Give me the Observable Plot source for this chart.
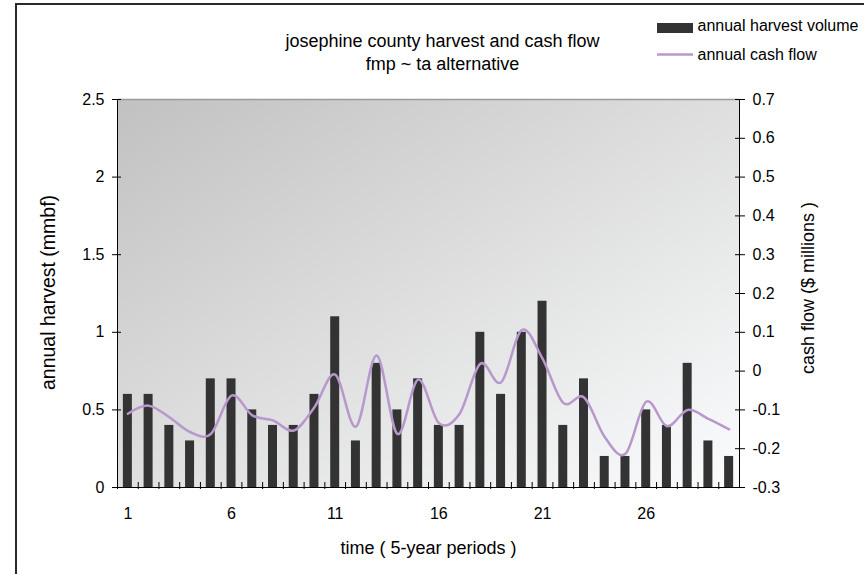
<!DOCTYPE html>
<html><head><meta charset="utf-8">
<script src="https://cdn.jsdelivr.net/npm/d3@7"></script>
<script src="https://cdn.jsdelivr.net/npm/@observablehq/plot@0.6"></script>
<style>
html,body{margin:0;padding:0;background:#fff;overflow:hidden}
#wrap{position:relative;width:864px;height:574px;overflow:hidden;background:#fff}
#wrap svg{position:absolute;left:0;top:0}
#bg{position:absolute;left:117px;top:99px;width:622px;height:388px;background:linear-gradient(to bottom right,#c1c1c1,#fbfcfd)}
#border{position:absolute;left:15px;top:3px;width:900px;height:700px;border:2px solid #2a2a2a;box-sizing:border-box}
</style></head>
<body><div id="wrap"><div id="border"></div><div id="bg"></div></div>
<script>
// ---- data ----
const periods = [1,2,3,4,5,6,7,8,9,10,11,12,13,14,15,16,17,18,19,20,21,22,23,24,25,26,27,28,29,30];
const harvest = [0.6,0.6,0.4,0.3,0.7,0.7,0.5,0.4,0.4,0.6,1.1,0.3,0.8,0.5,0.7,0.4,0.4,1.0,0.6,1.0,1.2,0.4,0.7,0.2,0.2,0.5,0.4,0.8,0.3,0.2];
const cashFlow = [-0.110,-0.089,-0.119,-0.157,-0.162,-0.063,-0.114,-0.127,-0.153,-0.093,-0.009,-0.143,0.040,-0.162,-0.022,-0.134,-0.110,0.019,-0.029,0.106,0.032,-0.082,-0.068,-0.170,-0.213,-0.079,-0.142,-0.100,-0.123,-0.150];
const xTickLabels = [1,6,11,16,21,26];
const harvestTicks = [0,0.5,1,1.5,2,2.5];
const cashTicks = [-0.3,-0.2,-0.1,0,0.1,0.2,0.3,0.4,0.5,0.6,0.7];
const titleLines = ["josephine county harvest and cash flow","fmp ~ ta alternative"];
const legendLabels = ["annual harvest volume","annual cash flow"];
const axisLabels = {x:"time ( 5-year periods )", yLeft:"annual harvest (mmbf)", yRight:"cash flow ($ millions )"};

const rows = periods.map((p,i)=>({period:p, volume:harvest[i], cash:cashFlow[i]}));

const barColor = "#333333";
const lineColor = "#b898cc";
const font = "'Liberation Sans', Arial, sans-serif";
const step = 622/30;

const xScale = {type:"band", domain:periods, paddingInner:0.566, paddingOuter:0.283, round:false};
const common = {
  width:864, height:574, marginLeft:117, marginRight:125, marginTop:99, marginBottom:87,
  style:{background:"transparent", fontFamily:font, fontSize:"16px", color:"#000", overflow:"visible"}
};

const base = Plot.plot({
  ...common,
  x:{...xScale, label:null, ticks:xTickLabels, tickSize:0, tickPadding:20, line:true},
  y:{domain:[0,2.5], ticks:harvestTicks, tickFormat:d=>String(d), tickSize:5, tickPadding:8, label:null, line:true},
  marks:[
    Plot.ruleY([2.5], {stroke:"#9a9a9a", strokeWidth:1.5}),
    Plot.barY(rows, {x:"period", y:"volume", fill:barColor}),
    Plot.ruleX(periods, {x:d=>d, y1:0, y2:0, dx:-step/2, insetTop:2, insetBottom:5, stroke:"#000"}),
    Plot.ruleY(harvestTicks, {y:d=>d, insetRight:618, stroke:"#000"})
  ]
});

const txt = {text:d=>d, lineAnchor:"middle"};
const over = Plot.plot({
  ...common,
  x:{...xScale, axis:null},
  y:{domain:[-0.3,0.7], axis:"right", ticks:cashTicks, tickFormat:d=>String(d), tickSize:5, tickPadding:8, label:null, line:true},
  marks:[
    Plot.ruleY(cashTicks, {y:d=>d, insetLeft:618, stroke:"#000"}),
    Plot.line(rows, {x:"period", y:"cash", stroke:lineColor, strokeWidth:2.5, curve:"cardinal"}),
    Plot.text([titleLines[0]], {...txt, frameAnchor:"top", textAnchor:"middle", dx:14, dy:-58, fontSize:18}),
    Plot.text([titleLines[1]], {...txt, frameAnchor:"top", textAnchor:"middle", dx:14, dy:-35, fontSize:18}),
    Plot.text([legendLabels[0]], {...txt, frameAnchor:"top-right", textAnchor:"start", dx:-42, dy:-73.4, fontSize:16}),
    Plot.text([legendLabels[1]], {...txt, frameAnchor:"top-right", textAnchor:"start", dx:-42, dy:-44.8, fontSize:16}),
    Plot.text([axisLabels.x], {...txt, frameAnchor:"bottom", textAnchor:"middle", dy:60.7, fontSize:18}),
    Plot.text([axisLabels.yLeft], {...txt, frameAnchor:"left", textAnchor:"middle", rotate:-90, dx:-69, dy:-1, fontSize:19.5}),
    Plot.text([axisLabels.yRight], {...txt, frameAnchor:"right", textAnchor:"middle", rotate:-90, dx:69, dy:-5.5, fontSize:18})
  ]
});

// legend swatches
const so = d3.select(over);
so.append("rect").attr("x",657).attr("y",23).attr("width",36).attr("height",10).attr("fill",barColor);
so.append("line").attr("x1",657).attr("x2",693).attr("y1",54.5).attr("y2",54.5).attr("stroke",lineColor).attr("stroke-width",2.5);

const wrap = document.getElementById("wrap");
wrap.appendChild(base);
wrap.appendChild(over);
</script>
</body></html>
